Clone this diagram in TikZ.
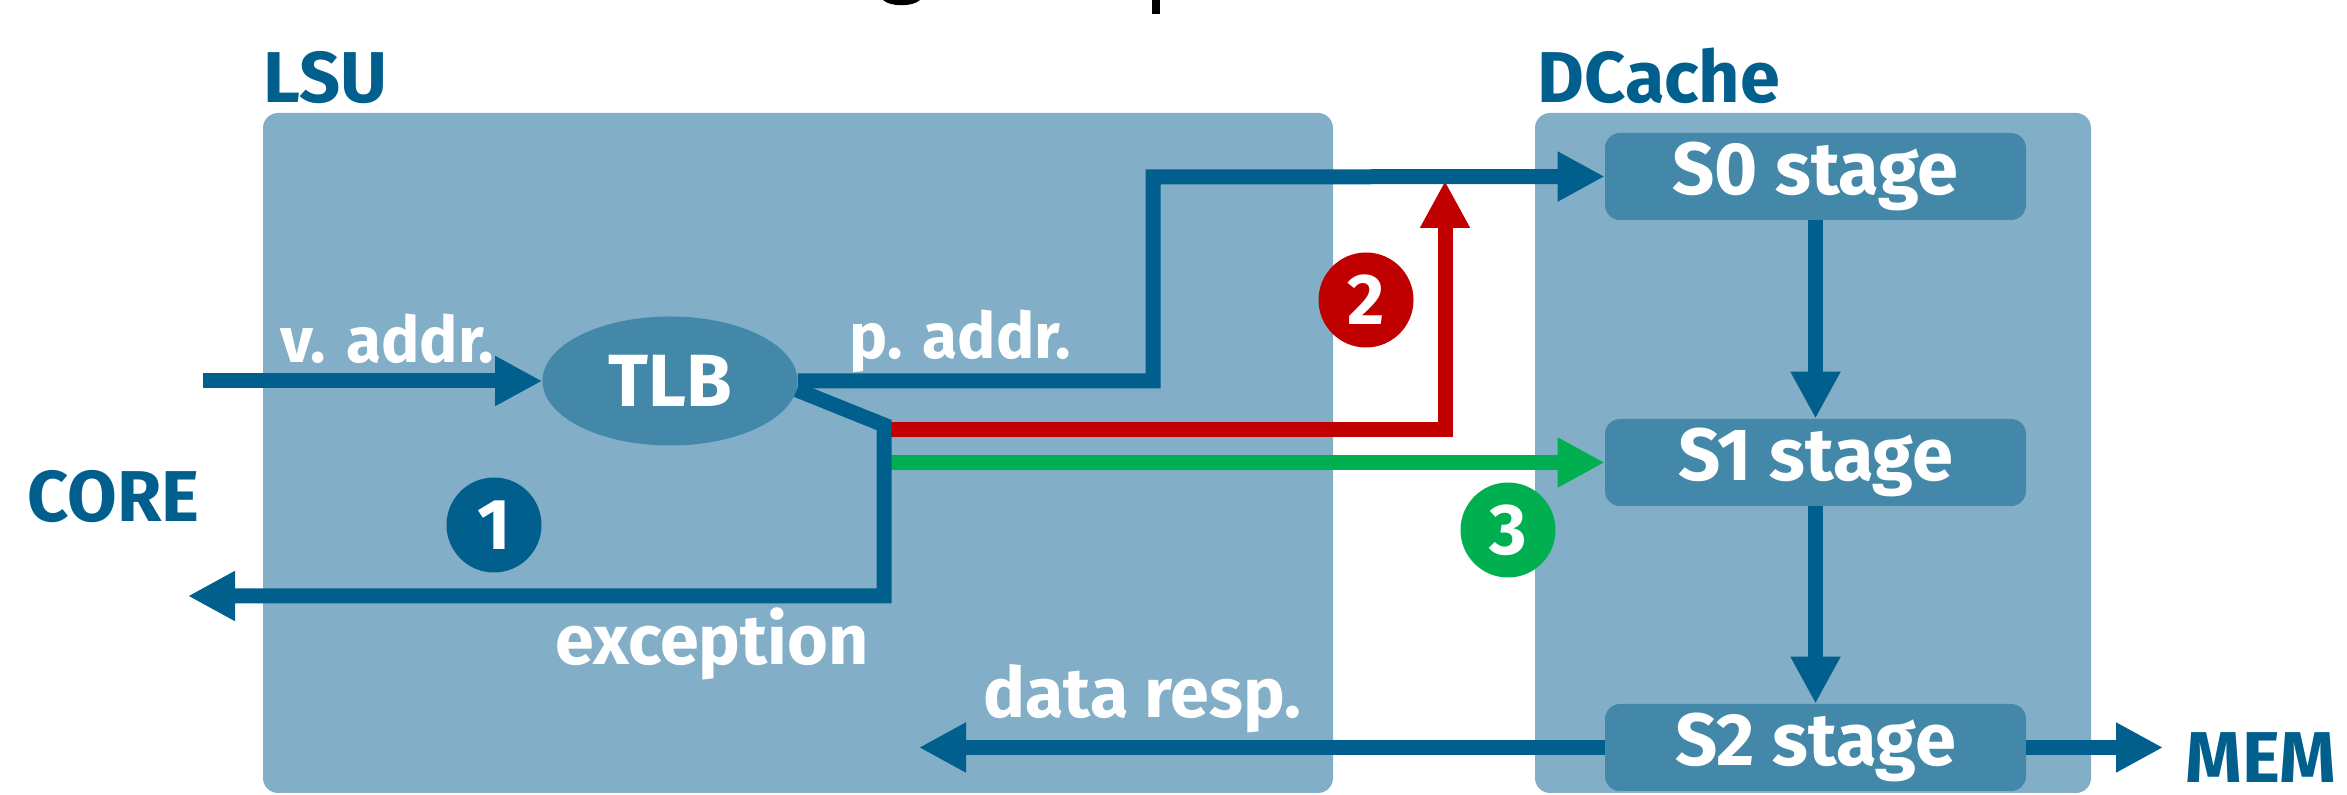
\documentclass[tikz,border=0pt]{standalone}
\usepackage{fontspec}
\setmainfont{Fira Sans}
\usetikzlibrary{arrows.meta,shapes.geometric}

\definecolor{boxfill}{RGB}{130,175,199}
\definecolor{stagefill}{RGB}{67,136,168}
\definecolor{flowblue}{RGB}{0,95,141}
\definecolor{flowred}{RGB}{192,0,0}
\definecolor{flowgreen}{RGB}{0,176,80}

\begin{document}
\begin{tikzpicture}[x=0.5pt,y=-0.5pt,
  container/.style={fill=boxfill, draw=none, rounded corners=7.5pt},
  stagebox/.style={fill=stagefill, rounded corners=7.5pt, minimum width=210.5pt,
    minimum height=43.5pt, inner sep=0pt, text=white,
    font=\bfseries\fontsize{37}{40}\selectfont},
  unitname/.style={text=flowblue, font=\bfseries\fontsize{36}{40}\selectfont,
    inner sep=0pt, anchor=base west},
  flowlabel/.style={text=white, font=\bfseries\fontsize{32}{36}\selectfont,
    inner sep=0pt, anchor=base west},
  widelabel/.style={flowlabel, font=\bfseries\fontsize{35}{38}\selectfont},
  badge/.style={circle, minimum size=47.5pt, inner sep=0pt, text=white,
    font=\bfseries\fontsize{36}{40}\selectfont},
  flow/.style={line width=7.5pt, draw=flowblue},
  tip/.style={-{Triangle[length=23.5pt,width=23.5pt]}},
]
\useasboundingbox (0,0) rectangle (2347,795);

% title descenders at the top edge
\fill[black] (883,0) .. controls (890,7) and (913,7) .. (920,0) -- cycle;
\fill[black] (1152,0) rectangle (1160,14);

% LSU and DCache containers
\fill[container] (263,113) rectangle (1333,793);
\fill[container] (1535,113) rectangle (2091,793);
\node[unitname] (lsu) at (263,103) {LSU};
\node[unitname] (dcache) at (1537,103) {DCache};
\node[unitname] (core) at (27,522) {CORE};
\node[unitname] (mem) at (2185,783) {MEM};

% TLB and cache pipeline stages
\node[ellipse, fill=stagefill, minimum width=127.5pt, minimum height=64.5pt,
  inner sep=0pt, text=white, font=\bfseries\fontsize{37}{40}\selectfont]
  (tlb) at (670,381) {TLB};
\node[stagebox] (s0) at (1815.5,176.5) {S0 stage};
\node[stagebox] (s1) at (1815.5,462.5) {S1 stage};
\node[stagebox] (s2) at (1815.5,747.5) {S2 stage};

% free ends of connectors
\coordinate (vin) at (203,381);
\coordinate (pbend) at (1153,381);
\coordinate (ptop) at (1153,177);
\coordinate (split) at (884,425);
\coordinate (excbend) at (884,596);
\coordinate (excout) at (188,596);
\coordinate (redstart) at (884,430);
\coordinate (redbend) at (1445,430);
\coordinate (redtip) at (1445,181);
\coordinate (greenstart) at (884,462.5);
\coordinate (respout) at (919,747.5);
\coordinate (memin) at (2163,747.5);

% red and green paths
\draw[line width=7.5pt, draw=flowred, tip] (redstart) -- (redbend) -- (redtip);
\draw[line width=7.5pt, draw=flowgreen, tip] (greenstart) -- (s1.west);

% blue paths
\draw[flow, tip] (vin) -- (tlb.west);
\draw[flow, tip] (tlb.east) -- (pbend) -- (ptop) -- (s0.west);
\draw[flow, tip] (tlb.-4) -- (split) -- (excbend) -- (excout);
\draw[flow, tip] (s0.south) -- (s1.north);
\draw[flow, tip] (s1.south) -- (s2.north);
\draw[flow, tip] (s2.west) -- (respout);
\draw[flow, tip] (s2.east) -- (memin);

% connector labels
\node[flowlabel] (vaddr) at (280,363) {v. addr.};
\node[flowlabel] (paddr) at (849,359) {p. addr.};
\node[widelabel] (exc) at (555,665) {exception};
\node[widelabel] (resp) at (983,718) {data resp.};

% numbered cases
\node[badge, fill=flowblue] (n1) at (494,525) {1};
\node[badge, fill=flowred] (n2) at (1366,300) {2};
\node[badge, fill=flowgreen] (n3) at (1508,530) {3};
\end{tikzpicture}
\end{document}
